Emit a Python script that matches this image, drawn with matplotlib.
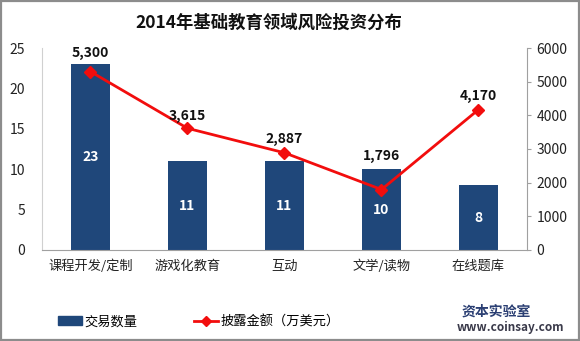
import matplotlib
matplotlib.use("Agg")
import matplotlib.pyplot as plt
from matplotlib.patches import Rectangle
from matplotlib.lines import Line2D

plt.rcParams['font.family'] = ['Noto Sans CJK SC', 'DejaVu Sans']

categories = ["课程开发/定制", "游戏化教育", "互动", "文学/读物", "在线题库"]
deal_counts = [23, 11, 11, 10, 8]
amounts = [5300, 3615, 2887, 1796, 4170]
left_ticks = [0, 5, 10, 15, 20, 25]
right_ticks = [0, 1000, 2000, 3000, 4000, 5000, 6000]
# vertical lift (points) of each amount label above its marker
label_lift = [13.5, 8.5, 10, 24, 9.5]

bar_color = "#1F477A"
line_color = "#F20D0D"

fig = plt.figure(figsize=(5.8, 3.41), dpi=100)
fig.patch.set_facecolor("white")
fig.patches.append(Rectangle((0.002, 0.003), 0.996, 0.994, transform=fig.transFigure,
                             fill=False, edgecolor="#8C8C8C", linewidth=1.6))

ax = fig.add_axes([0.0724, 0.2669, 0.8362, 0.5923])
x = list(range(len(categories)))
ax.bar(x, deal_counts, width=0.4, color=bar_color, zorder=2)
ax.set_xlim(-0.5, len(categories) - 0.5)
ax.set_ylim(0, 25)
ax.set_yticks(left_ticks)
ax.set_xticks(x)
ax.set_xticklabels(categories, fontsize=9.5, color="#222222")
ax.tick_params(axis="x", length=0, pad=7)
ax.tick_params(axis="y", length=0, pad=12, labelsize=10, labelcolor="#222222")
for side in ["top", "right"]:
    ax.spines[side].set_visible(False)
ax.spines["left"].set_color("#D0D0D0")
ax.spines["bottom"].set_color("#A0A0A0")

for xi, v in zip(x, deal_counts):
    ax.text(xi, v / 2, str(v), ha="center", va="center", color="white",
            fontsize=10, fontweight="bold", zorder=4)

ax2 = ax.twinx()
ax2.plot(x, amounts, color=line_color, linewidth=2, marker="D", markersize=6, zorder=3)
ax2.set_ylim(0, 6000)
ax2.set_yticks(right_ticks)
ax2.tick_params(axis="y", length=3, color="#A0A0A0", pad=4, labelsize=10, labelcolor="#222222")
for side in ["top", "left", "bottom"]:
    ax2.spines[side].set_visible(False)
ax2.spines["right"].set_color("#A0A0A0")

for xi, v, lift in zip(x, amounts, label_lift):
    ax2.annotate(f"{v:,}", (xi, v), xytext=(0, lift), textcoords="offset points",
                 ha="center", va="center", color="#111111",
                 fontsize=10, fontweight="bold", zorder=5)

fig.text(0.463, 0.932, "2014年基础教育领域风险投资分布", ha="center", va="center",
         fontsize=12.5, fontweight="bold", color="#111111")

# legend along the bottom
handles = [Rectangle((0, 0), 1, 1, color=bar_color),
           Line2D([0], [0], color=line_color, linewidth=2, marker="D", markersize=5)]
fig.legend(handles, ["交易数量", "披露金额（万美元）"], loc="center left",
           bbox_to_anchor=(0.1, 0.056), ncol=2, frameon=False, fontsize=9.5,
           handlelength=1.8, handletextpad=0.2, columnspacing=4.3, borderpad=0,
           borderaxespad=0)

# site mark in the corner
fig.text(0.855, 0.085, "资本实验室", ha="center", va="center", fontsize=10,
         fontweight="bold", color="#2B3F73")
fig.text(0.88, 0.04, "www.coinsay.com", ha="center", va="center", fontsize=8.5,
         fontweight="bold", color="#3A3A4A")

fig.savefig("out.png", dpi=100, facecolor="white")
